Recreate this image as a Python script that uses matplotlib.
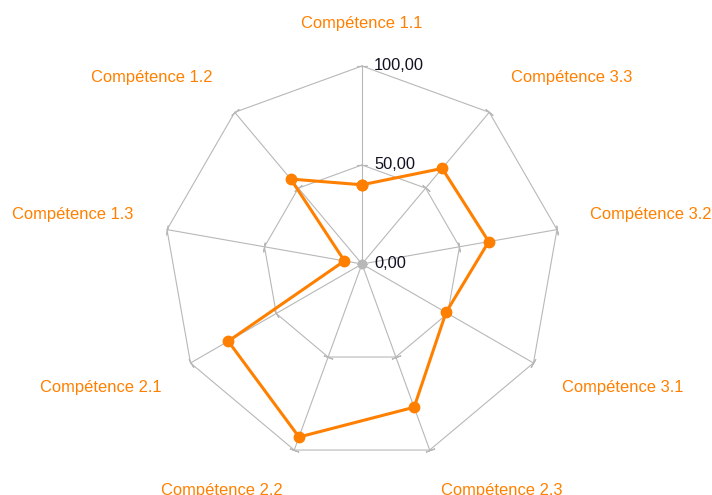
import numpy as np
import matplotlib
matplotlib.use("Agg")
import matplotlib.pyplot as plt

# values, clockwise from the top
competences = ["Compétence 1.1", "Compétence 3.3", "Compétence 3.2", "Compétence 3.1",
               "Compétence 2.3", "Compétence 2.2", "Compétence 2.1", "Compétence 1.3",
               "Compétence 1.2"]
scores = [40, 63, 65, 49, 77, 93, 78, 9, 56]
ring_levels = [0, 50, 100]
ring_labels = ["0,00", "50,00", "100,00"]

ORANGE = "#ff8000"
GRID = "#b8b8b8"

plt.rcParams["font.family"] = ["Liberation Sans", "DejaVu Sans"]

fig = plt.figure(figsize=(7.12, 4.95), dpi=100)
ax = fig.add_axes([0.2303, 0.0667, 0.5562, 0.8], projection="polar")
ax.set_theta_offset(np.pi / 2)
ax.set_theta_direction(-1)
ax.set_ylim(0, 100)
ax.grid(False)
ax.set_xticks([])
ax.set_yticks([])
ax.spines["polar"].set_visible(False)
ax.patch.set_visible(False)

n = len(competences)
angles = np.arange(n) * 2 * np.pi / n
closed = np.append(angles, angles[0])

# spokes
for a in angles:
    ax.plot([a, a], [0, 100], color=GRID, lw=0.8, clip_on=False, zorder=1)

# polygon rings
for lvl in ring_levels[1:]:
    ax.plot(closed, [lvl] * (n + 1), color=GRID, lw=0.8, clip_on=False, zorder=1)

# little tick spurs on each spoke
for a in angles:
    deg = 90 - np.degrees(a)
    for lvl in ring_levels:
        ax.plot([a], [lvl], marker=(2, 2, deg), markersize=7, color=GRID,
                mew=0.8, clip_on=False, zorder=1)

# data
ax.plot(closed, scores + scores[:1], color=ORANGE, lw=2.2, marker="o",
        markersize=7.5, clip_on=False, zorder=3)

# radial value labels along the top axis
for lvl, lab in zip(ring_levels, ring_labels):
    ax.annotate(lab, xy=(0, lvl), xytext=(12, 0), textcoords="offset pixels",
                ha="left", va="center", fontsize=11.8, color="#111122",
                annotation_clip=False)

# category labels, offsets from the centre in pixels
label_offsets = [(0, 240), (210, 186), (289, 49), (261, -124), (140, -227),
                 (-140, -227), (-261, -124), (-289, 49), (-210, 186)]
for name, (dx, dy) in zip(competences, label_offsets):
    ax.annotate(name, xy=(0.5, 0.5), xycoords="axes fraction",
                xytext=(dx, dy), textcoords="offset pixels",
                ha="center", va="center", fontsize=11.9, color=ORANGE,
                annotation_clip=False)

fig.savefig("out.png", dpi=100)
